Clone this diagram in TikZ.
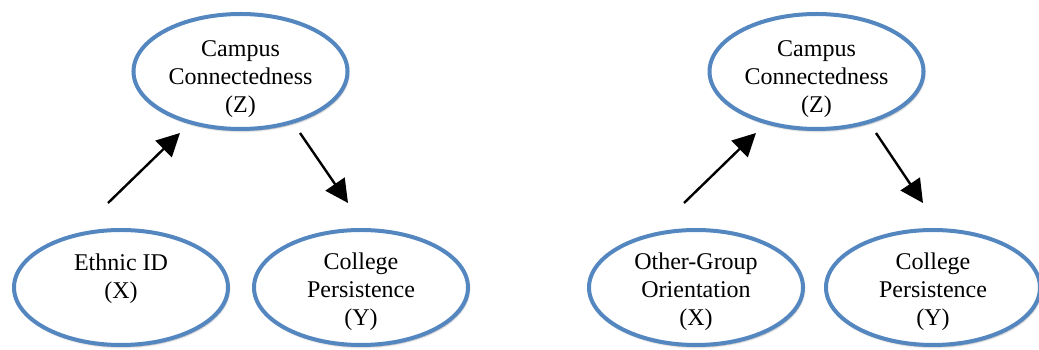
\documentclass[tikz,border=0pt]{standalone}
\usepackage{fontspec}
\setmainfont{Liberation Serif}
\usetikzlibrary{shapes.geometric,arrows.meta,shadows.blur}
\definecolor{ovalblue}{RGB}{84,134,192}
\begin{document}
\begin{tikzpicture}[x=1pt,y=1pt,
    var/.style={ellipse,draw=ovalblue,line width=4pt,fill=white,
      minimum width=214pt,minimum height=115pt,inner xsep=0pt,inner ysep=-12pt,
      align=center,font=\fontsize{24}{28}\selectfont,
      execute at begin node={\rule{0pt}{#1}},
      blur shadow={shadow xshift=1pt,shadow yshift=-2pt,shadow blur steps=8,shadow opacity=35}},
    var/.default=87pt,
    path/.style={line width=2.4pt,-{Triangle[length=23pt,width=23pt]}}]
  \useasboundingbox (0,0) rectangle (1039,350);
  \draw
    (240.5,278.5) node[var] (z1){Campus\\Connectedness\\(Z)}
    (121,62.5) node[var=78pt] (x1){Ethnic ID\\(X)\\\mbox{}}
    (361,62.5) node[var=82pt] (y1){College\\Persistence\\(Y)}
    (816.5,278.5) node[var] (z2){Campus\\Connectedness\\(Z)}
    (696,62.5) node[var=82pt] (x2){Other-Group\\Orientation\\(X)}
    (933,62.5) node[var=82pt] (y2){College\\Persistence\\(Y)};
  \coordinate (s1) at (108,147);
  \coordinate (t1) at (180,217);
  \coordinate (s2) at (300,217);
  \coordinate (t2) at (348,147);
  \coordinate (s3) at (684,147);
  \coordinate (t3) at (756,217);
  \coordinate (s4) at (876,217);
  \coordinate (t4) at (923,147);
  \begin{scope}[path]
    \draw (s1) to (t1);
    \draw (s2) to (t2);
    \draw (s3) to (t3);
    \draw (s4) to (t4);
  \end{scope}
\end{tikzpicture}
\end{document}
